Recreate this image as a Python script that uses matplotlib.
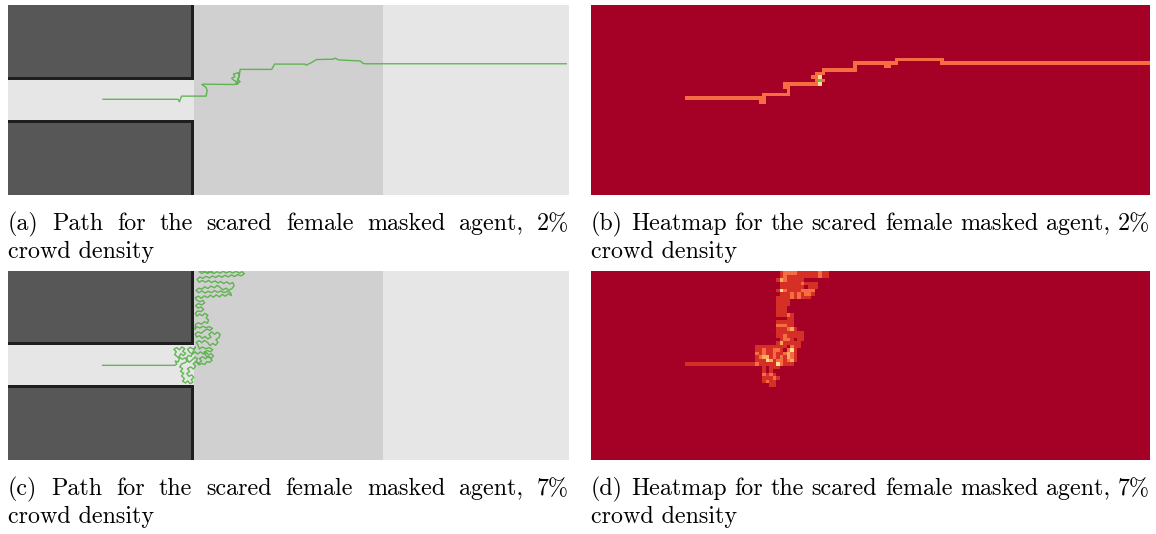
import numpy as np
import matplotlib
matplotlib.use("Agg")
import matplotlib.pyplot as plt
from matplotlib.patches import Rectangle

# Simulation floor: 160 x 54 cells
GRID_W, GRID_H = 160, 54
WALL_RIGHT = 53.05          # end of the two wall blocks
CORRIDOR = (21.3, 32.8)     # corridor between the walls (y range)
ZONE_SPLIT = 107.0          # boundary between the two open zones
BORDER = 0.8                # dark wall outline thickness

# Agent trajectory, 2% crowd density (x, y in cells)
path_2pct = [
    (27.1, 27.2), (48.5, 27.2), (48.9, 26.5), (49.5, 28.1), (56.5, 28.1),
    (56.8, 29.7), (56.5, 30.6), (55.3, 31.4), (55.7, 31.5), (64.7, 31.4),
    (65.2, 32.2), (64.3, 32.7), (63.8, 33.2), (64.7, 33.6), (64.3, 34.4),
    (65.2, 34.6), (65.7, 34.8), (65.9, 33.8), (65.5, 32.9), (66.2, 32.2),
    (65.7, 31.8), (65.2, 31.4), (65.6, 32.6), (66.0, 34.0), (66.2, 35.7),
    (75.2, 35.7), (75.6, 36.4), (76.0, 37.2), (84.7, 37.2), (85.0, 36.9),
    (86.5, 37.6), (88.0, 38.5), (92.8, 38.6), (93.3, 38.9), (94.2, 38.4),
    (100.4, 38.1), (101.3, 37.4), (101.8, 37.3), (159.2, 37.3),
]

# Agent trajectory, 7% crowd density (x, y in cells)
path_7pct = [
    (27.0, 27.05), (47.6, 27.05),
    # wandering at the corridor exit
    (48.1, 27.4), (47.7, 28.3), (48.5, 28.0), (48.9, 28.9), (48.2, 29.6),
    (47.5, 30.1), (48.0, 30.9), (47.3, 31.6), (48.1, 32.1), (48.9, 31.5),
    (49.6, 32.3), (50.4, 31.8), (49.8, 31.0), (50.7, 30.5), (50.0, 29.8),
    (49.3, 30.4), (48.8, 29.5), (49.7, 28.8), (50.6, 29.2), (51.3, 28.5),
    (50.5, 27.8), (49.6, 27.5), (49.0, 26.6), (49.8, 26.1), (49.2, 25.3),
    (50.1, 24.8), (49.5, 24.0), (50.3, 23.3), (49.8, 22.5), (50.6, 22.0),
    (51.3, 22.6), (51.9, 21.8), (52.7, 22.2), (52.3, 23.0), (53.0, 23.6),
    (52.4, 24.3), (51.6, 23.9), (51.0, 24.7), (51.8, 25.3), (51.2, 26.1),
    (52.1, 26.6), (52.9, 26.0), (53.5, 26.8), (52.8, 27.5), (53.6, 28.1),
    (54.4, 27.6), (55.2, 28.3), (54.6, 29.0), (55.5, 29.5), (56.3, 28.9),
    (57.1, 29.6), (57.9, 29.0), (58.6, 29.7), (58.0, 30.4), (57.2, 30.0),
    (56.6, 30.7), (55.7, 30.3), (54.9, 30.9), (54.1, 30.3), (53.3, 30.9),
    (52.6, 30.2), (51.8, 30.8), (51.2, 31.6), (52.0, 32.2), (52.8, 31.7),
    (53.5, 32.3),
    # drifting back down before leaving the corridor mouth
    (52.9, 31.2), (52.2, 29.6), (51.4, 29.9), (50.8, 28.7), (51.7, 27.9),
    (52.5, 28.6), (53.3, 29.4), (54.0, 29.0), (53.7, 28.0), (54.5, 27.2),
    (55.3, 27.6), (56.1, 27.3), (56.7, 28.1), (57.5, 27.9), (58.2, 28.5),
    (57.6, 29.3), (56.5, 29.7), (55.9, 30.8), (56.8, 31.3), (57.7, 30.9),
    (58.4, 31.5), (57.5, 32.1), (56.4, 31.8), (55.4, 32.3), (54.6, 31.7),
    # cluster beside the upper wall corner
    (54.2, 32.8), (53.7, 33.6), (54.5, 34.1), (55.3, 33.5), (56.0, 34.2),
    (56.9, 33.6), (57.6, 32.7), (58.4, 33.3), (59.2, 32.8), (59.9, 33.6),
    (59.3, 34.4), (60.2, 35.0), (60.5, 35.9), (59.7, 36.5), (58.9, 35.9),
    (58.1, 36.6), (57.3, 35.9), (57.9, 35.1), (57.0, 34.6), (56.2, 35.3),
    (55.4, 34.8), (54.6, 35.5), (53.8, 35.1), (53.4, 36.0), (54.2, 36.6),
    (55.1, 36.2), (55.9, 36.9), (56.8, 37.4), (57.6, 37.0), (58.3, 37.6),
    (57.4, 38.1), (56.5, 37.8), (55.6, 38.2), (54.7, 37.7), (53.9, 38.1),
    (53.3, 37.3), (53.5, 38.8),
    # climbing along the wall
    (54.3, 39.2), (55.2, 38.8), (56.0, 39.5), (56.9, 39.1), (57.2, 40.0),
    (56.5, 40.6), (57.0, 41.4), (56.1, 41.9), (55.4, 41.2), (54.6, 41.7),
    (53.9, 41.1), (53.4, 41.9), (54.1, 42.6), (55.0, 42.4), (55.8, 43.0),
    (55.1, 43.7), (54.2, 43.4), (53.5, 44.1), (54.3, 44.7), (55.2, 44.3),
    (56.1, 44.9), (55.6, 45.6), (54.7, 45.2), (53.8, 45.7), (53.4, 46.4),
    # sideways band
    (54.3, 46.8), (55.1, 46.2), (56.0, 46.9), (56.9, 46.4), (57.7, 47.1),
    (58.6, 46.5), (59.4, 47.2), (60.3, 46.6), (61.1, 47.3), (62.0, 46.8),
    (62.8, 47.5), (63.7, 47.0), (63.4, 47.9), (62.5, 48.2), (61.6, 47.8),
    (60.7, 48.3), (59.8, 47.9), (58.9, 48.4), (58.0, 47.8), (57.1, 48.2),
    (56.2, 47.7), (55.3, 48.3), (54.4, 47.8), (53.6, 48.4),
    # top edge of the floor
    (54.4, 49.1), (55.3, 48.8), (56.1, 49.5), (57.0, 49.0), (57.9, 49.7),
    (58.8, 49.2), (59.7, 49.9), (60.5, 49.3), (61.3, 48.6), (62.2, 49.1),
    (63.0, 48.5), (63.9, 49.0), (64.5, 49.8), (64.1, 50.7), (63.2, 50.3),
    (62.4, 50.9), (61.5, 50.4), (60.7, 51.0), (59.8, 50.6), (59.0, 51.2),
    (58.1, 50.7), (57.2, 51.3), (56.3, 50.8), (55.4, 51.3), (54.5, 50.8),
    (53.9, 51.6), (54.7, 52.3), (55.6, 51.9), (56.5, 52.5), (57.4, 52.0),
    (58.3, 52.6), (59.2, 52.1), (60.1, 52.7), (61.0, 52.2), (61.9, 52.8),
    (62.8, 52.3), (63.7, 52.9), (64.6, 52.4), (65.5, 53.0), (66.4, 52.6),
    (67.4, 53.2), (66.8, 53.8), (65.9, 53.4), (65.0, 53.9), (64.1, 53.4),
    (63.2, 53.9), (62.3, 53.4), (61.4, 53.9), (60.5, 53.4), (59.6, 53.8),
    (58.7, 53.3), (57.8, 53.8), (57.0, 53.3), (56.2, 53.8), (55.3, 53.3),
    (54.5, 53.8), (55.4, 54.0), (56.6, 53.5), (57.5, 53.9), (58.3, 53.5),
    (58.0, 54.4),
]

# Upper limit of the heatmap colour scale (visits per cell)
HEAT_VMAX = {"2pct": 5, "7pct": 10}

captions = [
    ("(a) Path for the scared female masked agent, 2%", "crowd density"),
    ("(b) Heatmap for the scared female masked agent, 2%", "crowd density"),
    ("(c) Path for the scared female masked agent, 7%", "crowd density"),
    ("(d) Heatmap for the scared female masked agent, 7%", "crowd density"),
]

WALL_FILL = "#575757"
WALL_EDGE = "#1e1e1e"
ZONE_MID = "#d0d0d0"
ZONE_LIGHT = "#e6e6e6"
PATH_COLOR = "#4caf3a"
CAPTION_FONT = "cmr10"
CAPTION_SIZE = 17.3


def visit_counts(path, w, h, step=0.05):
    """Number of separate visits the trajectory makes to each grid cell."""
    counts = np.zeros((h, w))
    last = None
    pts = np.asarray(path, dtype=float)
    for (x0, y0), (x1, y1) in zip(pts[:-1], pts[1:]):
        n = max(2, int(np.hypot(x1 - x0, y1 - y0) / step) + 1)
        for t in np.linspace(0.0, 1.0, n):
            c = int(np.floor(x0 + (x1 - x0) * t))
            r = int(np.floor(y0 + (y1 - y0) * t))
            if (c, r) != last and 0 <= c < w and 0 <= r < h:
                counts[r, c] += 1
                last = (c, r)
    return counts


def draw_floor(ax):
    ax.add_patch(Rectangle((WALL_RIGHT, 0), ZONE_SPLIT - WALL_RIGHT, GRID_H,
                           color=ZONE_MID, lw=0))
    ax.add_patch(Rectangle((ZONE_SPLIT, 0), GRID_W - ZONE_SPLIT, GRID_H,
                           color=ZONE_LIGHT, lw=0))
    ax.add_patch(Rectangle((0, CORRIDOR[0]), WALL_RIGHT, CORRIDOR[1] - CORRIDOR[0],
                           color=ZONE_LIGHT, lw=0))
    # lower wall
    ax.add_patch(Rectangle((0, 0), WALL_RIGHT, CORRIDOR[0], color=WALL_FILL, lw=0))
    ax.add_patch(Rectangle((0, CORRIDOR[0] - BORDER), WALL_RIGHT, BORDER,
                           color=WALL_EDGE, lw=0))
    ax.add_patch(Rectangle((WALL_RIGHT - BORDER, 0), BORDER, CORRIDOR[0],
                           color=WALL_EDGE, lw=0))
    # upper wall
    ax.add_patch(Rectangle((0, CORRIDOR[1]), WALL_RIGHT, GRID_H - CORRIDOR[1],
                           color=WALL_FILL, lw=0))
    ax.add_patch(Rectangle((0, CORRIDOR[1]), WALL_RIGHT, BORDER,
                           color=WALL_EDGE, lw=0))
    ax.add_patch(Rectangle((WALL_RIGHT - BORDER, CORRIDOR[1]), BORDER,
                           GRID_H - CORRIDOR[1], color=WALL_EDGE, lw=0))


def draw_path(ax, path):
    draw_floor(ax)
    xs, ys = zip(*path)
    ax.plot(xs, ys, color=PATH_COLOR, lw=1.0, alpha=0.85, solid_joinstyle="round")


def draw_heatmap(ax, path, vmax):
    counts = visit_counts(path, GRID_W, GRID_H)
    ax.imshow(counts, cmap="RdYlGn", vmin=0, vmax=vmax, origin="lower",
              extent=(0, GRID_W, 0, GRID_H), interpolation="nearest",
              aspect="auto")


W_PX, H_PX = 1156, 534
fig = plt.figure(figsize=(W_PX / 100, H_PX / 100), dpi=100)
fig.patch.set_facecolor("white")

# panel boxes in pixels: (left, top, width, height)
panels = [
    (8, 5, 561, 190), (591, 5, 559, 190),
    (8, 271, 561, 189), (591, 271, 559, 189),
]
axes = []
for (l, t, w, h) in panels:
    ax = fig.add_axes([l / W_PX, 1 - (t + h) / H_PX, w / W_PX, h / H_PX])
    ax.set_xlim(0, GRID_W)
    ax.set_ylim(0, GRID_H)
    ax.set_axis_off()
    axes.append(ax)

draw_path(axes[0], path_2pct)
draw_heatmap(axes[1], path_2pct, HEAT_VMAX["2pct"])
draw_path(axes[2], path_7pct)
draw_heatmap(axes[3], path_7pct, HEAT_VMAX["7pct"])

# justified two-line captions under each panel
renderer = fig.canvas.get_renderer()


def justified_line(text, x0, x1, baseline):
    words = text.split()
    objs = [fig.text(0, 1 - baseline / H_PX, wd, fontsize=CAPTION_SIZE,
                     family=CAPTION_FONT, va="baseline", ha="left") for wd in words]
    widths = [o.get_window_extent(renderer).width for o in objs]
    gap = (x1 - x0 - sum(widths)) / max(1, len(words) - 1)
    x = x0
    for o, wd in zip(objs, widths):
        o.set_x(x / W_PX)
        x += wd + gap


def plain_line(text, x0, baseline):
    fig.text(x0 / W_PX, 1 - baseline / H_PX, text, fontsize=CAPTION_SIZE,
             family=CAPTION_FONT, va="baseline", ha="left")


for (l, t, w, h), (line1, line2) in zip(panels, captions):
    base = t + h + 35
    justified_line(line1, l, l + w, base)
    plain_line(line2, l, base + 28)

fig.savefig("out.png", dpi=100)
